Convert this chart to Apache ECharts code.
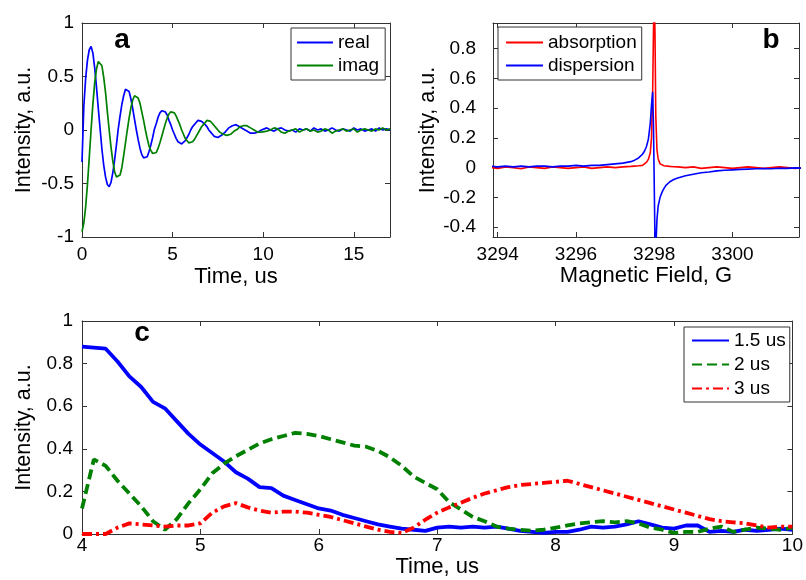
<!DOCTYPE html>
<html><head><meta charset="utf-8">
<script src="https://cdn.jsdelivr.net/npm/echarts@6/dist/echarts.min.js"></script>
<style>html,body{margin:0;padding:0;background:#fff}#c{width:806px;height:580px}</style>
</head><body><div id="c"></div><script>
// ---------- Panel a: time-domain signal ----------
const timeA = [];
for (let i = 0; i <= 100; i++) timeA.push(+(i * 0.1).toFixed(1));
for (let i = 1; i <= 35; i++) timeA.push(+(10 + i * 0.2).toFixed(1));
const realA = [
 -0.30, 0.22, 0.48, 0.65, 0.75, 0.78, 0.72, 0.58, 0.40, 0.20,
 0.01, -0.18, -0.33, -0.44, -0.51, -0.53, -0.49, -0.40, -0.28, -0.14,
 0.01, 0.13, 0.24, 0.32, 0.38, 0.39, 0.36, 0.29, 0.20, 0.10,
 0.00, -0.09, -0.17, -0.23, -0.26, -0.27, -0.25, -0.20, -0.14, -0.07,
 0.01, 0.06, 0.12, 0.16, 0.18, 0.19, 0.17, 0.14, 0.09, 0.05,
 0.00, -0.04, -0.08, -0.11, -0.12, -0.13, -0.12, -0.10, -0.07, -0.04,
 0.00, 0.03, 0.05, 0.07, 0.09, 0.09, 0.08, 0.07, 0.05, 0.03,
 0.00, -0.02, -0.04, -0.06, -0.07, -0.07, -0.06, -0.05, -0.04, -0.02,
 0.00, 0.02, 0.03, 0.04, 0.05, 0.05, 0.04, 0.03, 0.02, 0.01,
 0.00, -0.01, -0.02, -0.03, -0.03, -0.03, -0.02, -0.02, -0.01, 0.00,
 0.01,
 0.02, 0.00, -0.01, 0.01, 0.02, 0.00, -0.01, 0.00, -0.02, 0.01,
 0.00, 0.01, -0.01, 0.02, 0.00, 0.01, -0.01, 0.00, 0.02, 0.00,
 -0.01, 0.01, 0.00, -0.01, 0.02, 0.00, 0.01, -0.01, 0.00, 0.01,
 -0.01, 0.02, 0.00, 0.01, 0.00
];
const imagA = [
 -0.95, -0.87, -0.72, -0.51, -0.26, 0.00, 0.24, 0.44, 0.57, 0.64,
 0.65, 0.60, 0.49, 0.35, 0.17, 0.00, -0.16, -0.29, -0.39, -0.44,
 -0.45, -0.42, -0.35, -0.24, -0.12, 0.00, 0.11, 0.21, 0.28, 0.32,
 0.33, 0.30, 0.25, 0.17, 0.09, 0.00, -0.08, -0.15, -0.19, -0.22,
 -0.23, -0.21, -0.17, -0.12, -0.06, 0.00, 0.06, 0.11, 0.15, 0.17,
 0.18, 0.16, 0.13, 0.09, 0.05, 0.00, -0.04, -0.08, -0.10, -0.12,
 -0.12, -0.11, -0.09, -0.06, -0.03, 0.00, 0.03, 0.05, 0.07, 0.09,
 0.09, 0.08, 0.07, 0.04, 0.02, 0.00, -0.02, -0.03, -0.04, -0.05,
 -0.05, -0.04, -0.04, -0.03, -0.01, 0.00, 0.01, 0.03, 0.04, 0.04,
 0.04, 0.04, 0.03, 0.02, 0.01, 0.00, -0.01, -0.02, -0.02, -0.02,
 -0.02,
 -0.01, 0.00, 0.02, 0.01, -0.02, -0.03, -0.01, 0.00, 0.01, -0.02,
 0.00, 0.01, -0.01, 0.00, -0.02, -0.01, 0.01, 0.00, -0.03, -0.01,
 0.00, 0.01, -0.01, 0.00, 0.01, -0.02, 0.00, 0.01, 0.00, -0.01,
 0.01, 0.00, 0.02, 0.00, 0.01
];

// ---------- Panel b: field sweep ----------
const fieldB = [
 3293.8, 3294.0, 3294.2, 3294.4, 3294.6, 3294.8, 3295.0, 3295.2, 3295.4, 3295.6,
 3295.8, 3296.0, 3296.2, 3296.4, 3296.6, 3296.8, 3297.0, 3297.2, 3297.4,
 3297.5, 3297.6, 3297.7, 3297.75, 3297.8, 3297.85, 3297.9, 3297.93, 3297.96, 3297.98,
 3298.0, 3298.02, 3298.04, 3298.07, 3298.1, 3298.15, 3298.2, 3298.25, 3298.3, 3298.4,
 3298.5, 3298.6,
 3298.8, 3299.0, 3299.2, 3299.4, 3299.6, 3299.8, 3300.0, 3300.2, 3300.4, 3300.6,
 3300.8, 3301.0, 3301.2, 3301.4, 3301.6, 3301.8
];
const absorptionB = [
 0.0, -0.005, 0.005, 0.0, -0.008, 0.005, 0.0, -0.005, 0.005, 0.0,
 -0.005, 0.0, 0.005, -0.005, 0.0, 0.005, 0.0, 0.005, 0.008,
 0.01, 0.012, 0.015, 0.02, 0.035, 0.055, 0.1, 0.2, 0.5, 0.9,
 1.2, 0.9, 0.35, 0.12, 0.06, 0.025, 0.015, 0.012, 0.01, 0.008,
 0.006, 0.005,
 0.0, 0.005, -0.005, 0.0, 0.005, 0.0, -0.005, 0.0, 0.005, 0.0,
 -0.005, 0.0, 0.005, 0.0, -0.005, 0.0
];
const dispersionB = [
 0.01, 0.005, 0.01, 0.005, 0.01, 0.005, 0.01, 0.01, 0.005, 0.01,
 0.01, 0.015, 0.01, 0.015, 0.015, 0.02, 0.025, 0.03, 0.04,
 0.05, 0.065, 0.09, 0.11, 0.14, 0.19, 0.3, 0.42, 0.51, 0.3,
 -0.1, -0.5, -0.55, -0.35, -0.26, -0.2, -0.165, -0.14, -0.12, -0.095,
 -0.08, -0.07,
 -0.055, -0.045, -0.035, -0.03, -0.022, -0.018, -0.015, -0.012, -0.01, -0.008,
 -0.006, -0.008, -0.004, -0.005, -0.002, -0.004
];

// ---------- Panel c: echo traces ----------
const timeC = [];
for (let i = 0; i <= 60; i++) timeC.push(+(4 + i * 0.1).toFixed(1));
const echo15 = [
 0.88, 0.875, 0.87, 0.81, 0.74, 0.69, 0.62, 0.59, 0.53, 0.47,
 0.42, 0.38, 0.34, 0.29, 0.26, 0.22, 0.215, 0.18, 0.16, 0.14,
 0.12, 0.11, 0.09, 0.075, 0.06, 0.045, 0.035, 0.025, 0.02, 0.015,
 0.03, 0.035, 0.03, 0.035, 0.03, 0.035, 0.025, 0.015, 0.01, 0.005,
 0.01, 0.01, 0.02, 0.035, 0.03, 0.035, 0.045, 0.06, 0.045, 0.03,
 0.025, 0.04, 0.04, 0.01, 0.015, 0.01, 0.02, 0.015, 0.02, 0.025,
 0.02
];
const echo2 = [
 0.12, 0.35, 0.32, 0.25, 0.19, 0.13, 0.06, 0.02, 0.07, 0.145,
 0.21, 0.285, 0.33, 0.365, 0.395, 0.425, 0.445, 0.46, 0.475, 0.47,
 0.46, 0.445, 0.43, 0.415, 0.41, 0.39, 0.36, 0.32, 0.27, 0.24,
 0.21, 0.15, 0.115, 0.08, 0.06, 0.035, 0.025, 0.02, 0.015, 0.02,
 0.03, 0.04, 0.05, 0.055, 0.06, 0.055, 0.06, 0.05, 0.03, 0.02,
 0.005, 0.01, 0.01, 0.025, 0.035, 0.01, 0.02, 0.03, 0.025, 0.02,
 0.03
];
const echo3 = [
 0.0, 0.0, 0.0, 0.03, 0.05, 0.045, 0.04, 0.035, 0.04, 0.04,
 0.05, 0.1, 0.13, 0.145, 0.125, 0.11, 0.1, 0.105, 0.105, 0.1,
 0.09, 0.08, 0.065, 0.05, 0.035, 0.02, 0.01, 0.005, 0.03, 0.067,
 0.1, 0.125, 0.147, 0.17, 0.19, 0.205, 0.22, 0.23, 0.235, 0.24,
 0.245, 0.25, 0.235, 0.22, 0.205, 0.19, 0.175, 0.16, 0.145, 0.13,
 0.115, 0.1, 0.085, 0.07, 0.06, 0.055, 0.05, 0.04, 0.03, 0.035,
 0.035
];

const FONT = '"Liberation Sans", Arial, sans-serif';
const AX = '#333';
const zip = (xs, ys) => xs.map((x, i) => [x, ys[i]]);
const multOf = step => v => {
  const r = v / step;
  return Math.abs(r - Math.round(r)) < 1e-6 ? String(+v.toFixed(2)) : '';
};
const labelStyle = (margin, fmt) => ({ margin, fontSize: 19, color: '#000', fontFamily: FONT, formatter: fmt });
const nameStyle = size => ({ fontSize: size, color: '#000', fontFamily: FONT });

function xPair(grid, base, name, nameGap, margin, fmt) {
  const common = Object.assign({ gridIndex: grid, type: 'value', splitLine: { show: false },
    axisLine: { show: true, onZero: false, lineStyle: { color: AX, width: 1 } },
    axisTick: { show: true, inside: true, length: 5, lineStyle: { color: AX } } }, base);
  return [
    Object.assign({}, common, { position: 'bottom', axisLabel: labelStyle(margin, fmt),
      name, nameLocation: 'middle', nameGap, nameTextStyle: nameStyle(22) }),
    Object.assign({}, common, { position: 'top', axisLabel: { show: false } })
  ];
}
function yPair(grid, base, name, nameGap, margin, fmt) {
  const common = Object.assign({ gridIndex: grid, type: 'value', splitLine: { show: false },
    axisLine: { show: true, onZero: false, lineStyle: { color: AX, width: 1 } },
    axisTick: { show: true, inside: true, length: 5, lineStyle: { color: AX } } }, base);
  return [
    Object.assign({}, common, { position: 'left', axisLabel: labelStyle(margin, fmt),
      name, nameLocation: 'middle', nameGap, nameTextStyle: nameStyle(21.5) }),
    Object.assign({}, common, { position: 'right', axisLabel: { show: false } })
  ];
}

const line = (name, xi, data, color, width, type) => ({
  name, type: 'line', xAxisIndex: xi, yAxisIndex: xi, data, symbol: 'none', showSymbol: false,
  clip: true, color, lineStyle: { color, width, type: type || 'solid' }, emphasis: { disabled: true }
});
const legendBase = (left, top, names, padding, itemWidth, itemGap) => ({
  left, top, orient: 'vertical', data: names, selectedMode: false, padding, itemWidth,
  itemHeight: 20, itemGap, borderColor: AX, borderWidth: 1, backgroundColor: '#fff',
  itemStyle: { opacity: 0, borderWidth: 0 },
  textStyle: { fontSize: 19, color: '#000', fontFamily: FONT }
});

const chart = echarts.init(document.getElementById('c'), null, { renderer: 'canvas' });
chart.setOption({
  animation: false,
  backgroundColor: '#fff',
  grid: [
    { left: 82, top: 23, width: 308, height: 214 },
    { left: 493, top: 23, width: 306, height: 214 },
    { left: 82, top: 321, width: 712, height: 213 }
  ],
  xAxis: [
    ...xPair(0, { min: 0, max: 17, interval: 5 }, 'Time, us', 29, 8, multOf(5)),
    ...xPair(1, { min: 3293.88, max: 3301.7, splitNumber: 4 }, 'Magnetic Field, G', 28, 8, multOf(2)),
    ...xPair(2, { min: 4, max: 10, interval: 1 }, 'Time, us', 21, 2, multOf(1))
  ],
  yAxis: [
    ...yPair(0, { min: -1, max: 1, interval: 0.5 }, 'Intensity, a.u.', 47, 8, multOf(0.5)),
    ...yPair(1, { min: -0.467, max: 0.973, splitNumber: 7 }, 'Intensity, a.u.', 45, 17, multOf(0.2)),
    ...yPair(2, { min: 0, max: 1, interval: 0.2 }, 'Intensity, a.u.', 47, 9, multOf(0.2))
  ],
  legend: [
    legendBase(291, 28, ['real', 'imag'], [5, 6, 5, 5], 36, 4),
    legendBase(498, 27, ['absorption', 'dispersion'], [6, 5, 5, 7], 37, 4),
    legendBase(684, 327, ['1.5 us', '2 us', '3 us'], [4, 4, 4, 7], 37, 5)
  ],
  series: [
    line('real', 0, zip(timeA, realA), '#0000ff', 1.7),
    line('imag', 0, zip(timeA, imagA), '#008000', 1.7),
    line('absorption', 2, zip(fieldB, absorptionB), '#ff0000', 1.6),
    line('dispersion', 2, zip(fieldB, dispersionB), '#0000ff', 1.6),
    line('1.5 us', 4, zip(timeC, echo15), '#0000ff', 3.8),
    line('2 us', 4, zip(timeC, echo2), '#008000', 3.8, [10, 5]),
    line('3 us', 4, zip(timeC, echo3), '#ff0000', 3.8, [10, 4, 3, 4])
  ],
  graphic: [
    { type: 'text', x: 122, y: 40, style: { text: 'a', font: 'bold 28px ' + FONT, fill: '#000', align: 'center', verticalAlign: 'middle' } },
    { type: 'text', x: 771, y: 40, style: { text: 'b', font: 'bold 28px ' + FONT, fill: '#000', align: 'center', verticalAlign: 'middle' } },
    { type: 'text', x: 142, y: 333, style: { text: 'c', font: 'bold 28px ' + FONT, fill: '#000', align: 'center', verticalAlign: 'middle' } }
  ]
});
</script></body></html>
